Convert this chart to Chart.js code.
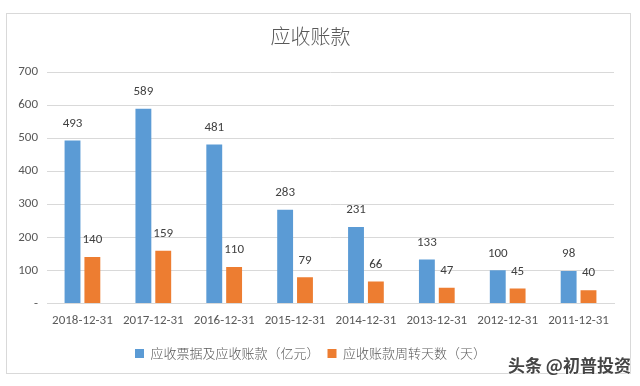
<!DOCTYPE html>
<html>
<head>
<meta charset="utf-8">
<script src="https://cdn.jsdelivr.net/npm/chart.js"></script>
<style>
	body { margin: 0; background: #fff; }
	#wrap { position: relative; width: 640px; height: 386px; }
	#frame { position: absolute; left: 6px; top: 13px; width: 623px; height: 359px; border: 1px solid #d9d9d9; }
	#chart { position: absolute; left: 0; top: 0; }
	#mark { position: absolute; left: 508px; top: 352px; font: bold 17px "Noto Sans CJK SC", sans-serif; color: #444; text-shadow: 0 0 2px #fff, 0 0 2px #fff; white-space: nowrap; }
</style>
</head>
<body>
<div id="wrap">
	<div id="frame"></div>
	<canvas id="chart" width="640" height="386"></canvas>
	<div id="mark">头条 @初普投资</div>
</div>
<script>
var titleText = '应收账款';
var labelList = ['2018-12-31', '2017-12-31', '2016-12-31', '2015-12-31', '2014-12-31', '2013-12-31', '2012-12-31', '2011-12-31'];
var seriesNames = ['应收票据及应收账款（亿元）', '应收账款周转天数（天）'];
var amountList = [493, 589, 481, 283, 231, 133, 100, 98];
var daysList = [140, 159, 110, 79, 66, 47, 45, 40];
var yTicks = [0, 100, 200, 300, 400, 500, 600, 700];

var CJK = '"Noto Sans CJK SC", "Noto Sans", sans-serif';
var TXT = 'Calibri, Carlito, "Open Sans", "Noto Sans", sans-serif';

//Etiquetas de valor encima de cada barra
var valueLabels = {
	id: 'valueLabels',
	afterDatasetsDraw: function(chart) {
		var ctx = chart.ctx;
		ctx.save();
		ctx.font = '13px ' + TXT;
		ctx.fillStyle = '#404040';
		ctx.textAlign = 'center';
		ctx.textBaseline = 'middle';
		chart.data.datasets.forEach(function(ds, i) {
			chart.getDatasetMeta(i).data.forEach(function(bar, j) {
				ctx.fillText(ds.data[j], bar.x, bar.y - 17);
			});
		});
		ctx.restore();
	}
};

var ctx = document.getElementById('chart').getContext('2d');
var chart = new Chart(ctx, {
	type: 'bar',
	data: {
		labels: labelList,
		datasets: [
			{ label: seriesNames[0], data: amountList, backgroundColor: '#5b9bd5' },
			{ label: seriesNames[1], data: daysList, backgroundColor: '#ed7d31' }
		]
	},
	options: {
		responsive: false,
		animation: false,
		categoryPercentage: 0.56,
		barPercentage: 0.8,
		layout: { padding: { left: 7, right: 26, top: 24, bottom: 16 } },
		plugins: {
			title: {
				display: true,
				text: titleText,
				color: '#595959',
				font: { family: CJK, size: 20, weight: '300' },
				padding: { top: 0, bottom: 24 }
			},
			legend: {
				position: 'bottom',
				labels: {
					color: '#595959',
					font: { family: CJK, size: 13, weight: '300' },
					boxWidth: 9,
					boxHeight: 9,
					padding: 8
				}
			},
			tooltip: { enabled: false }
		},
		scales: {
			x: {
				grid: { display: false, drawTicks: false },
				border: { color: '#d9d9d9' },
				ticks: { color: '#595959', font: { family: TXT, size: 13 }, padding: 10, maxRotation: 0, autoSkip: false }
			},
			y: {
				min: 0,
				max: 700,
				afterBuildTicks: function(scale) {
					scale.ticks = yTicks.map(function(v) { return { value: v }; });
				},
				afterFit: function(scale) { scale.width = 40; },
				grid: { color: '#d9d9d9', drawTicks: false },
				border: { display: false },
				ticks: {
					color: '#595959',
					font: { family: TXT, size: 13 },
					padding: 9,
					callback: function(v) { return v === 0 ? '-' : v; }
				}
			}
		}
	},
	plugins: [valueLabels]
});
</script>
</body>
</html>
